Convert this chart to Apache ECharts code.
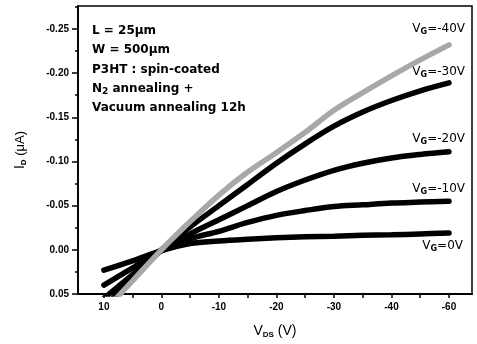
<!DOCTYPE html>
<html>
<head>
<meta charset="utf-8">
<script src="https://cdn.jsdelivr.net/npm/echarts@6/dist/echarts.min.js"></script>
<style>
  html, body { margin: 0; padding: 0; background: #fff; }
  #chart { width: 477px; height: 344px; }
</style>
</head>
<body>
<div id="chart"></div>
<script>
// 数据
const vds = [10, 5, 0, -5, -10, -15, -20, -25, -30, -35, -40, -45, -50]
const id0 = [0.023, 0.0125, 0.001, -0.007, -0.010, -0.012, -0.0136, -0.0148, -0.0155, -0.0165, -0.017, -0.018, -0.019]
const id10 = [0.040, 0.0205, 0.001, -0.0125, -0.021, -0.031, -0.039, -0.0445, -0.049, -0.051, -0.053, -0.054, -0.055]
const id20 = [0.055, 0.028, 0.001, -0.018, -0.034, -0.050, -0.066, -0.079, -0.090, -0.098, -0.104, -0.108, -0.111]
const id30 = [0.065, 0.033, 0.0, -0.026, -0.050, -0.074, -0.098, -0.120, -0.140, -0.156, -0.169, -0.180, -0.189]
const id40 = [0.070, 0.035, 0.0, -0.032, -0.062, -0.088, -0.110, -0.133, -0.158, -0.178, -0.197, -0.215, -0.232]
const gateLabels = ['-40V', '-30V', '-20V', '-10V', '0V']

// 刻度
const xTickValues = [10, 0, -10, -20, -30, -40, -50]
const xTickLabels = ['10', '0', '-10', '-20', '-30', '-40', '-60']
const xMinorValues = [10, 5, 0, -5, -10, -15, -20, -25, -30, -35, -40, -45, -50]
const yTickValues = [-0.25, -0.2, -0.15, -0.1, -0.05, 0, 0.05]
const yTickLabels = ['-0.25', '-0.20', '-0.15', '-0.10', '-0.05', '0.00', '0.05']
const yMinorValues = [-0.275, -0.225, -0.175, -0.125, -0.075, -0.025, 0.025]

const notes = [
  '{t|L = 25μm}',
  '{t|W = 500μm}',
  '{t|P3HT : spin-coated}',
  '{t|N}{s|2}{t| annealing +}',
  '{t|Vacuum annealing 12h}'
]

const font = 'Liberation Sans'
const wide = 'DejaVu Sans'
const myChart = echarts.init(document.getElementById('chart'))

const pick = (vals, labels) => v => {
  const i = vals.findIndex(t => Math.abs(t - v) < 1e-6)
  return i < 0 ? '' : labels[i]
}

const labelRich = {
  v: { fontFamily: wide, fontSize: 12, color: '#000', lineHeight: 14 },
  g: { fontFamily: wide, fontSize: 8, fontWeight: 'bold', color: '#000', lineHeight: 8, verticalAlign: 'bottom' }
}

const makeSeries = (data, i, color, offset) => ({
  name: 'VG=' + gateLabels[i],
  type: 'line',
  data: vds.map((x, k) => [x, data[k]]),
  smooth: 0.35,
  symbol: 'none',
  clip: true,
  lineStyle: { color, width: 5.5, cap: 'round' },
  endLabel: {
    show: true,
    offset,
    formatter: '{v|V}{g|G}{v|=' + gateLabels[i] + '}',
    rich: labelRich
  },
  z: color === '#000' ? 2 : 3
})

const option = {
  animation: false,
  grid: {
    left: 78, right: 5, top: 6, bottom: 48,
    show: true, borderColor: '#000', borderWidth: 1.5
  },
  xAxis: {
    type: 'value',
    inverse: true,
    min: -54,
    max: 14.5,
    axisLine: { show: true, onZero: false, lineStyle: { color: '#000', width: 1.8 } },
    axisTick: { show: true, length: 4, customValues: xMinorValues, lineStyle: { color: '#000', width: 1.5 } },
    axisLabel: {
      customValues: xTickValues,
      formatter: pick(xTickValues, xTickLabels),
      fontFamily: font, fontSize: 10, fontWeight: 'bold', color: '#000', margin: 8
    },
    splitLine: { show: false },
    name: '{v|V}{s|DS}{v| (V)}',
    nameLocation: 'middle',
    nameGap: 29,
    nameTextStyle: {
      rich: {
        v: { fontFamily: font, fontSize: 14, color: '#000', lineHeight: 16 },
        s: { fontFamily: font, fontSize: 8, fontWeight: 'bold', color: '#000', lineHeight: 8, verticalAlign: 'bottom' }
      }
    }
  },
  yAxis: [
    {
      type: 'value',
      inverse: true,
      min: -0.276,
      max: 0.05,
      axisLine: { show: true, onZero: false, lineStyle: { color: '#000', width: 1.8 } },
      axisTick: { show: true, length: 6, customValues: yTickValues, lineStyle: { color: '#000', width: 1.5 } },
      axisLabel: {
        customValues: yTickValues,
        formatter: pick(yTickValues, yTickLabels),
        fontFamily: font, fontSize: 10, fontWeight: 'bold', color: '#000', margin: 9
      },
      splitLine: { show: false },
      name: '{i|I}{d|D}{u| (μA)}',
      nameLocation: 'middle',
      nameRotate: 90,
      nameGap: 50,
      nameTextStyle: {
        rich: {
          i: { fontFamily: font, fontSize: 14, color: '#000', lineHeight: 16 },
          d: { fontFamily: font, fontSize: 8, fontWeight: 'bold', color: '#000', lineHeight: 8, verticalAlign: 'bottom' },
          u: { fontFamily: font, fontSize: 13, color: '#000', lineHeight: 16 }
        }
      }
    },
    {
      // 次刻度
      type: 'value',
      inverse: true,
      min: -0.276,
      max: 0.05,
      position: 'left',
      axisLine: { show: false, onZero: false },
      axisTick: { show: true, length: 3, customValues: yMinorValues, lineStyle: { color: '#000', width: 1.5 } },
      axisLabel: { show: false },
      splitLine: { show: false }
    }
  ],
  graphic: notes.map((t, i) => ({
    type: 'text',
    left: 92,
    top: 25 + i * 19.3,
    style: {
      text: t,
      rich: {
        t: { fontFamily: wide, fontSize: 12, fontWeight: 'bold', fill: '#000', lineHeight: 14 },
        s: { fontFamily: wide, fontSize: 9, fontWeight: 'bold', fill: '#000', lineHeight: 9, verticalAlign: 'bottom' }
      }
    }
  })),
  series: [
    makeSeries(id0, 4, '#000', [22, 13]),
    makeSeries(id10, 3, '#000', [24, -12]),
    makeSeries(id20, 2, '#000', [24, -13]),
    makeSeries(id30, 1, '#000', [24, -11]),
    makeSeries(id40, 0, '#a8a8a8', [24, -16])
  ]
}

myChart.setOption(option)
window.addEventListener('resize', () => {
  myChart.resize()
})
</script>
</body>
</html>
